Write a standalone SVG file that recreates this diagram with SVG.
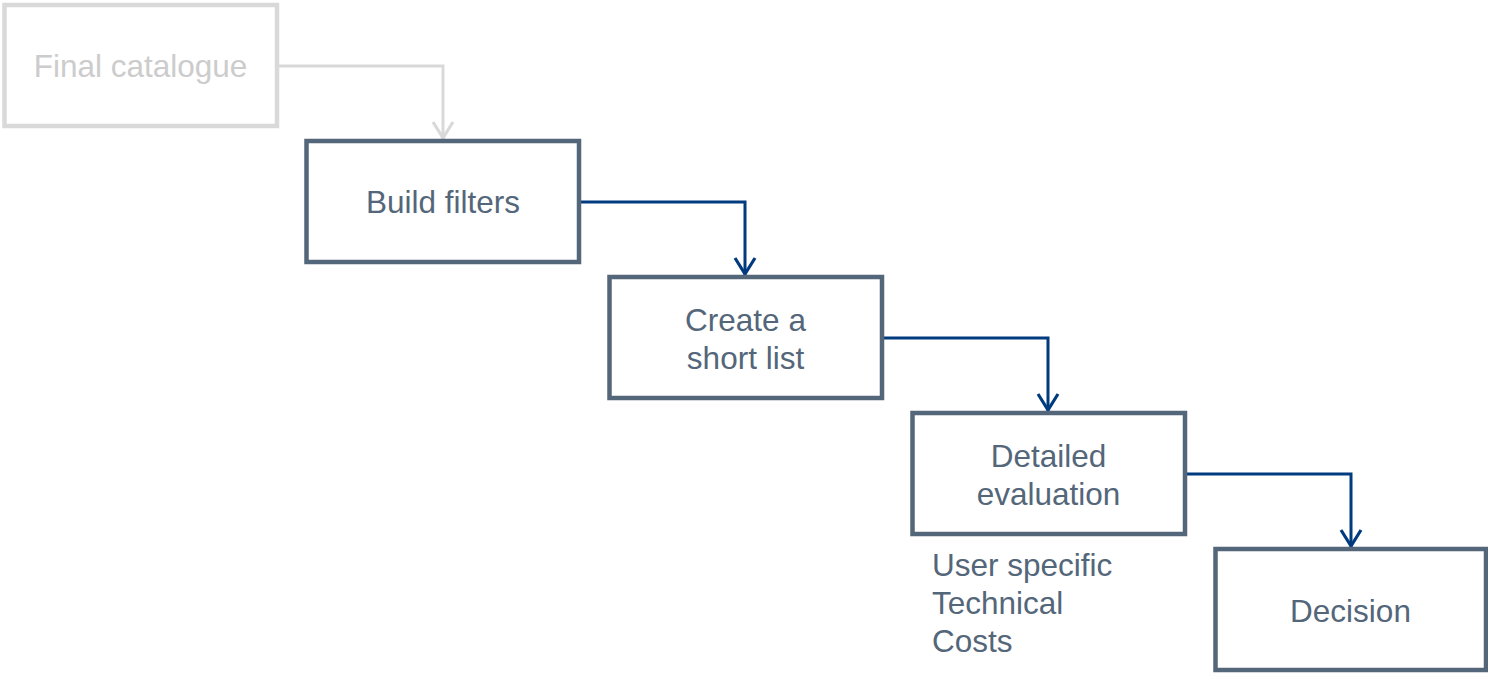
<svg xmlns="http://www.w3.org/2000/svg" width="1488" height="674" viewBox="0 0 1488 674">
  <style>
    .box { fill: #ffffff; stroke: #546679; stroke-width: 4.5; }
    .box-faded { fill: #ffffff; stroke: #d9d9d9; stroke-width: 4.5; }
    .label { font-family: "Liberation Sans", Arial, sans-serif; font-size: 31.5px; fill: #546679; text-anchor: middle; }
    .label-faded { font-family: "Liberation Sans", Arial, sans-serif; font-size: 31.5px; fill: #cccccc; text-anchor: middle; }
    .note { font-family: "Liberation Sans", Arial, sans-serif; font-size: 31.5px; fill: #546679; }
    .link { fill: none; stroke: #003b7f; stroke-width: 3; }
    .link-faded { fill: none; stroke: #d9d9d9; stroke-width: 3; }
  </style>
  <defs>
    <!-- open chevron heads, tip at the path end -->
    <marker id="arrow" markerUnits="userSpaceOnUse" markerWidth="26" markerHeight="26" viewBox="-22 -13 26 26" refX="0" refY="0" orient="auto">
      <path d="M -17 -10 L -1 0 L -17 10" fill="none" stroke="#003b7f" stroke-width="3.2"/>
    </marker>
    <marker id="arrow-faded" markerUnits="userSpaceOnUse" markerWidth="26" markerHeight="26" viewBox="-22 -13 26 26" refX="0" refY="0" orient="auto">
      <path d="M -17 -10 L -1 0 L -17 10" fill="none" stroke="#d9d9d9" stroke-width="3.2"/>
    </marker>
  </defs>

  <g id="connectors">
    <path class="link-faded" d="M 277 66 L 443 66 L 443 139" marker-end="url(#arrow-faded)"/>
    <path class="link" d="M 580 202 L 745 202 L 745 275" marker-end="url(#arrow)"/>
    <path class="link" d="M 883 338 L 1048 338 L 1048 411" marker-end="url(#arrow)"/>
    <path class="link" d="M 1186 474 L 1351 474 L 1351 547" marker-end="url(#arrow)"/>
  </g>

  <g id="final-catalogue">
    <rect class="box-faded" x="4.5" y="5" width="272.5" height="121"/>
    <text class="label-faded" x="140.5" y="77">Final catalogue</text>
  </g>

  <g id="build-filters">
    <rect class="box" x="306.5" y="141" width="272.5" height="121"/>
    <text class="label" x="443" y="213">Build filters</text>
  </g>

  <g id="short-list">
    <rect class="box" x="609.5" y="277" width="272.5" height="121"/>
    <text class="label" x="745.5" y="331">Create a</text>
    <text class="label" x="745.5" y="369">short list</text>
  </g>

  <g id="detailed-evaluation">
    <rect class="box" x="912.5" y="413" width="272.5" height="121"/>
    <text class="label" x="1048.5" y="467">Detailed</text>
    <text class="label" x="1048.5" y="505">evaluation</text>
  </g>

  <g id="evaluation-criteria">
    <text class="note" x="932" y="576">User specific</text>
    <text class="note" x="932" y="614">Technical</text>
    <text class="note" x="932" y="652">Costs</text>
  </g>

  <g id="decision">
    <rect class="box" x="1215.5" y="549" width="270.5" height="121"/>
    <text class="label" x="1350.5" y="622">Decision</text>
  </g>
</svg>
